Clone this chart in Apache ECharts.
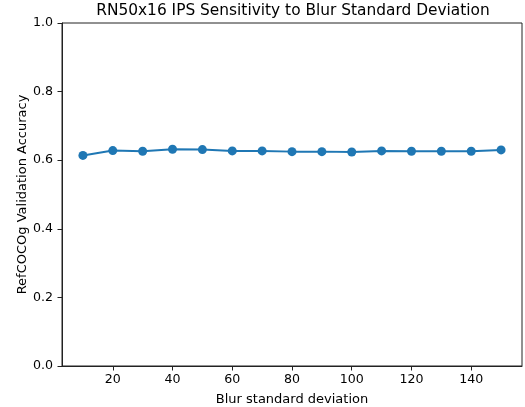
<!DOCTYPE html>
<html><head><meta charset="utf-8">
<script src="https://cdn.jsdelivr.net/npm/echarts@6/dist/echarts.min.js"></script>
<style>html,body{margin:0;padding:0;background:#fff}#c{width:525px;height:407px}</style>
</head><body><div id="c"></div>
<script>
const blurStd = [10,20,30,40,50,60,70,80,90,100,110,120,130,140,150];
const accuracy = [0.614,0.628,0.626,0.632,0.631,0.627,0.627,0.625,0.625,0.624,0.627,0.626,0.626,0.626,0.630];
const xTicks = [20,40,60,80,100,120,140];
const F = 'DejaVu Sans';
const chart = echarts.init(document.getElementById('c'), null, {renderer:'canvas'});
chart.setOption({
  animation:false,
  title:{text:'RN50x16 IPS Sensitivity to Blur Standard Deviation', left:288, textAlign:'center', top:-2,
    textStyle:{fontFamily:F, fontSize:15.4, fontWeight:'normal', color:'#000'}},
  grid:{left:62, right:3, top:23, bottom:41, show:true, borderColor:'#222', borderWidth:1, backgroundColor:'transparent',
    outerBoundsMode:'none', containLabel:false},
  xAxis:{type:'value', min:3, max:157,
    name:'Blur standard deviation', nameLocation:'middle', nameGap:27, nameMoveOverlap:false,
    nameTextStyle:{fontFamily:F, fontSize:13, color:'#000'},
    axisLine:{show:true, lineStyle:{color:'#222'}},
    axisTick:{show:true, length:4.5, lineStyle:{color:'#222'}, customValues:xTicks},
    axisLabel:{fontFamily:F, fontSize:12.6, color:'#000', margin:7, customValues:xTicks},
    splitLine:{show:false}},
  yAxis:{type:'value', min:0, max:1, interval:0.2,
    name:'RefCOCOg Validation Accuracy', nameLocation:'middle', nameGap:33, nameMoveOverlap:false,
    nameTextStyle:{fontFamily:F, fontSize:13, color:'#000'},
    axisLine:{show:true, lineStyle:{color:'#222'}},
    axisTick:{show:true, length:4.5, lineStyle:{color:'#222'}},
    axisLabel:{fontFamily:F, fontSize:12.6, color:'#000', margin:9, formatter:v=>v.toFixed(1)},
    splitLine:{show:false}},
  series:[{type:'line', data:blurStd.map((x,i)=>[x,accuracy[i]]),
    symbol:'circle', symbolSize:9, itemStyle:{color:'#1f77b4'}, lineStyle:{color:'#1f77b4', width:2}}]
});
</script></body></html>
